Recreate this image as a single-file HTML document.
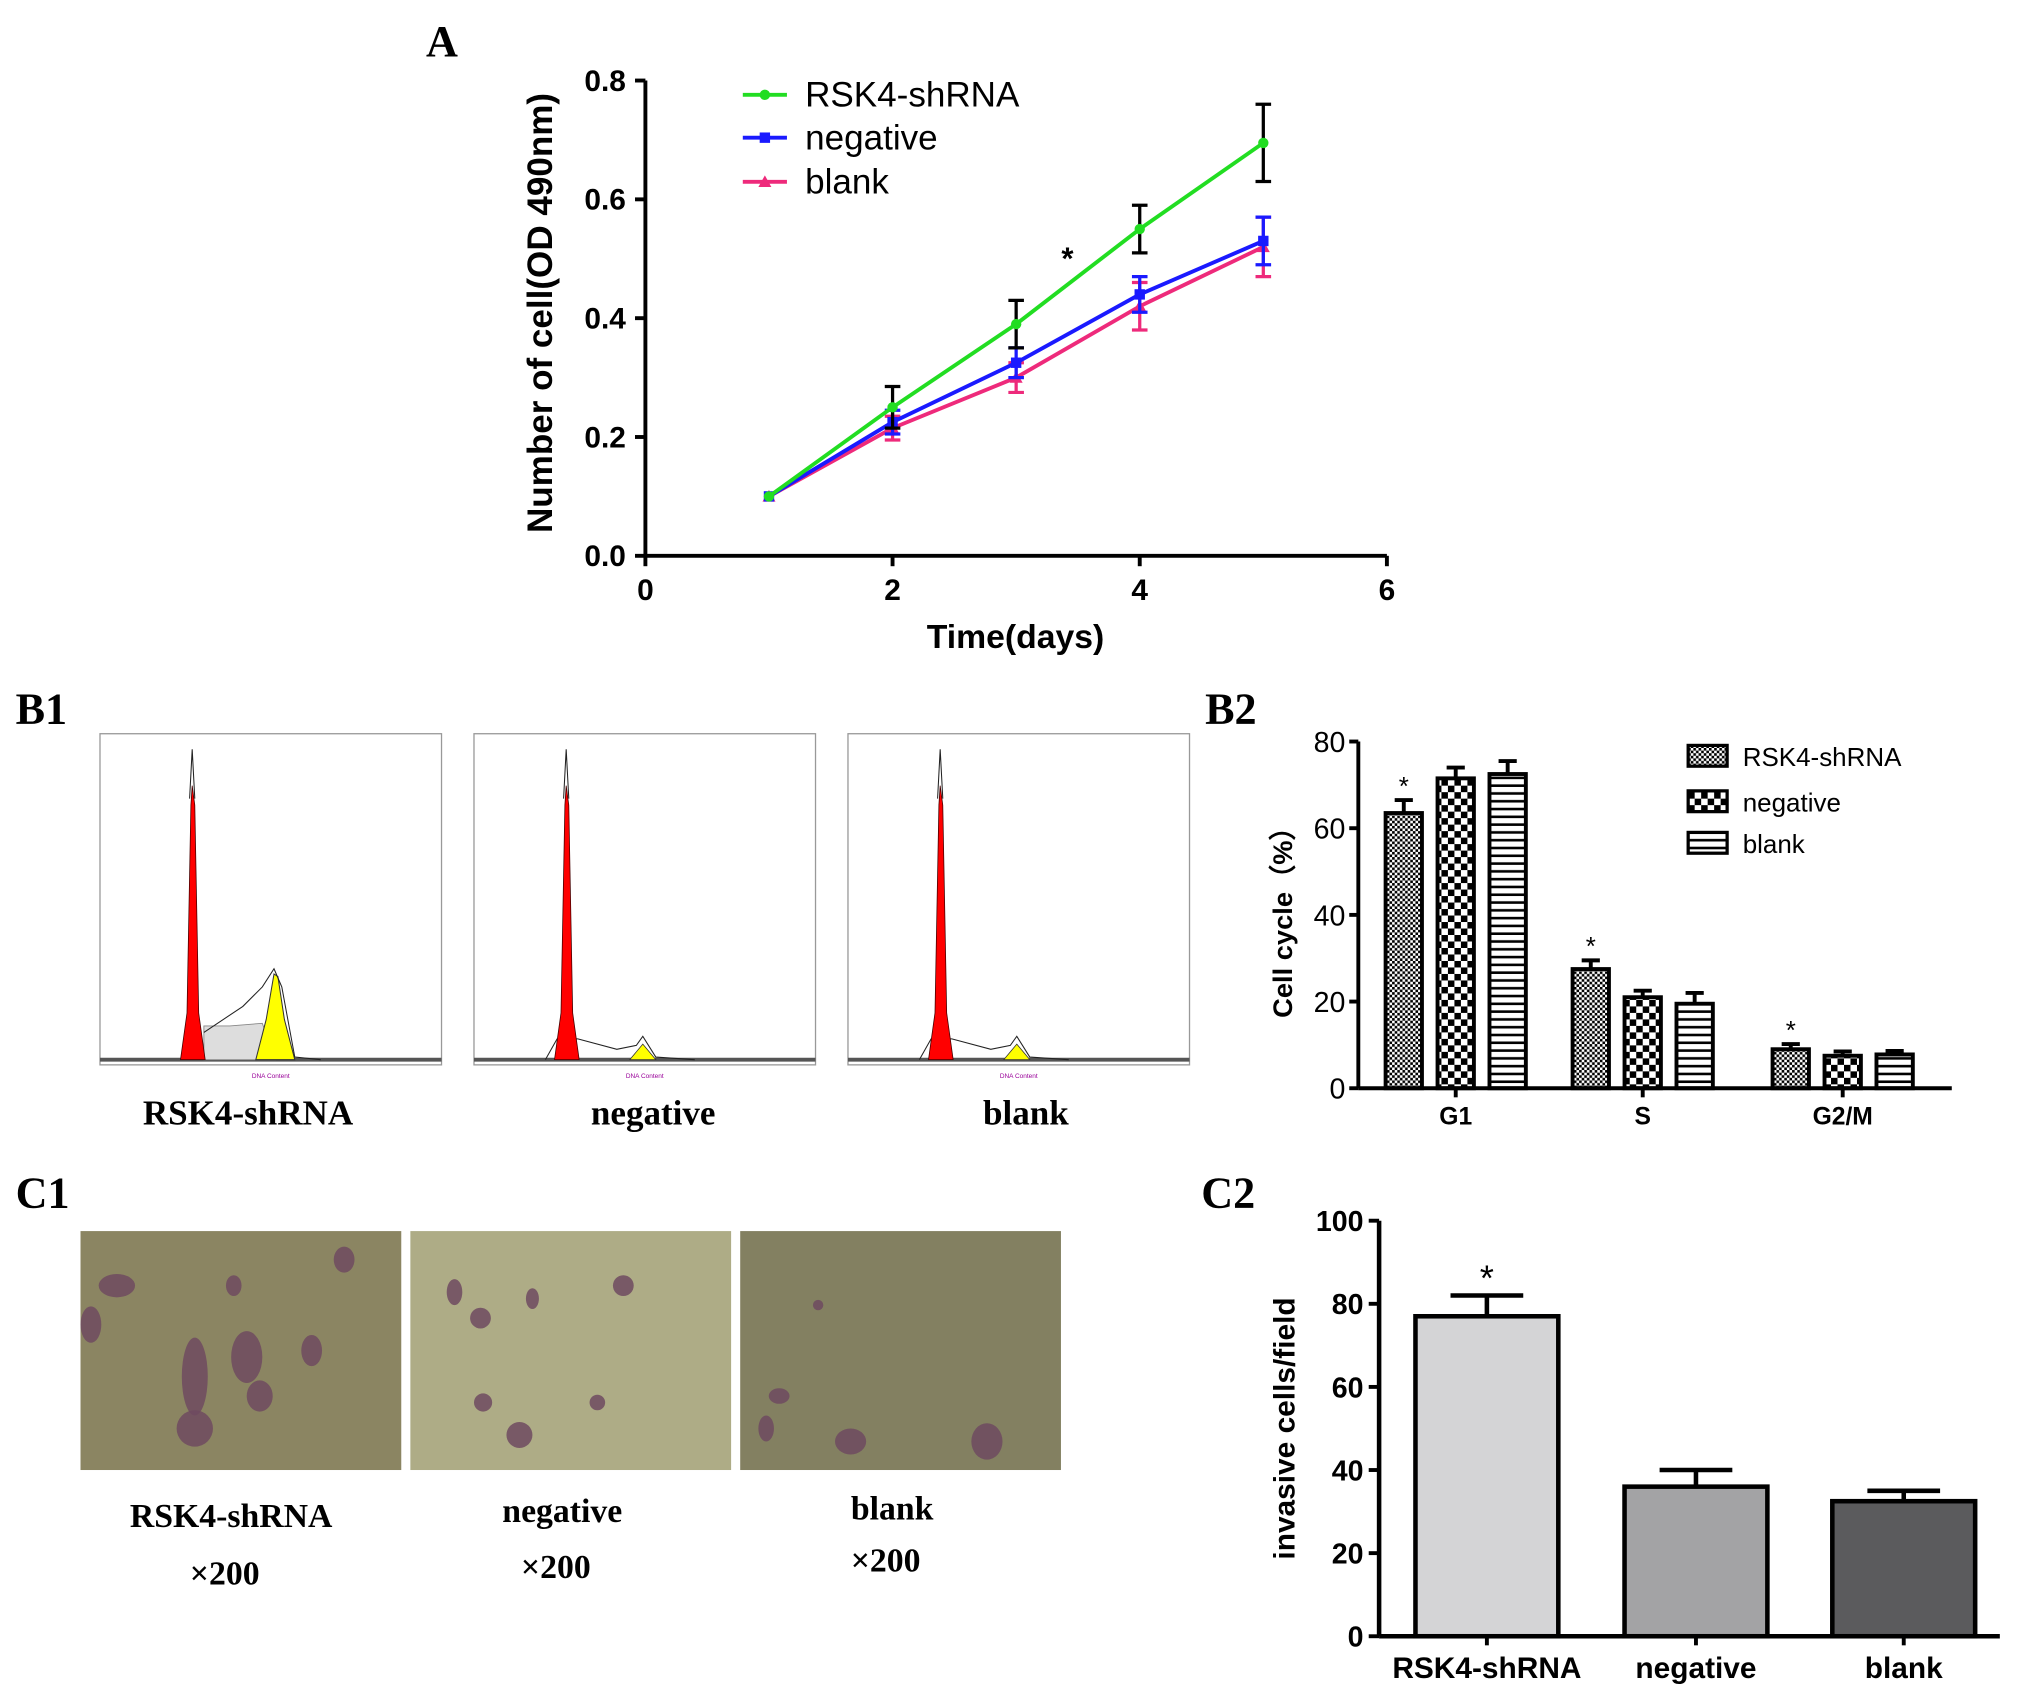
<!DOCTYPE html>
<html><head><meta charset="utf-8"><style>
html,body{margin:0;padding:0;background:#fff;}
svg{display:block;}
text{font-family:"Liberation Sans",sans-serif;}
.serif{font-family:"Liberation Serif",serif;font-weight:bold;}
</style></head><body>
<svg id="fig" width="2031" height="1696" viewBox="0 0 1564 1306" xmlns="http://www.w3.org/2000/svg">
<g id="A"></g>
<g id="B1"></g>
<g id="B2"></g>
<g id="C1"></g>
<g id="C2"></g>
<text class="serif" x="328" y="43" font-size="34">A</text>
<text class="serif" x="12" y="557" font-size="34">B1</text>
<text class="serif" x="928" y="557" font-size="34">B2</text>
<text class="serif" x="12" y="930" font-size="34">C1</text>
<text class="serif" x="925" y="930" font-size="34">C2</text>
</svg>
<script>
// ---- Panel A data ----
const daysA = [1,2,3,4,5];
const rskA = [0.10,0.25,0.39,0.55,0.695];
const rskErrA = [0,0.035,0.04,0.04,0.065];
const negA = [0.10,0.225,0.325,0.44,0.53];
const negErrA = [0,0.02,0.025,0.03,0.04];
const blankA = [0.10,0.215,0.30,0.42,0.52];
const blankErrA = [0,0.02,0.025,0.04,0.05];
const xTicksA = [0,2,4,6];
const yTicksA = [0.0,0.2,0.4,0.6,0.8];
// ---- Panel B2 data ----
const phasesB = ["G1","S","G2/M"];
const rskB = [63.5,27.5,9];
const rskErrB = [3,2,1.2];
const negB = [71.5,21,7.5];
const negErrB = [2.5,1.5,1];
const blankB = [72.5,19.5,7.8];
const blankErrB = [3,2.5,0.8];
const yTicksB = [0,20,40,60,80];
// ---- Panel C2 data ----
const groupsC = ["RSK4-shRNA","negative","blank"];
const valuesC = [77,36,32.5];
const errC = [5,4,2.5];
const yTicksC = [0,20,40,60,80,100];

const NS="http://www.w3.org/2000/svg";
function mk(parent,tag,attrs,txt){const e=document.createElementNS(NS,tag);for(const k in attrs)e.setAttribute(k,attrs[k]);if(txt!==undefined)e.textContent=txt;parent.appendChild(e);return e;}

// ===== Panel A =====
(function(){
const g=document.getElementById('A');
const x=v=>497+(v/6)*(1068-497);
const y=v=>428-(v/0.8)*(428-62);
let e;
e=mk(g,'line',{x1:x(0),y1:y(0),x2:x(6),y2:y(0),stroke:'#000','stroke-width':3});

e=mk(g,'line',{x1:x(0),y1:y(0),x2:x(0),y2:y(0.8),stroke:'#000','stroke-width':3});

xTicksA.forEach(t=>{mk(g,'line',{x1:x(t),y1:y(0),x2:x(t),y2:y(0)+8,stroke:'#000','stroke-width':3});
e=mk(g,'text',{x:x(t),y:462,'font-size':23,'font-weight':'bold','text-anchor':'middle'},t);
});
yTicksA.forEach(t=>{mk(g,'line',{x1:x(0)-8,y1:y(t),x2:x(0),y2:y(t),stroke:'#000','stroke-width':3});
e=mk(g,'text',{x:482,y:y(t)+8,'font-size':23,'font-weight':'bold','text-anchor':'end'},t.toFixed(1));
});
e=mk(g,'text',{x:782,y:499,'font-size':26,'font-weight':'bold','text-anchor':'middle'},'Time(days)');

e=mk(g,'text',{x:0,y:0,'font-size':27,'font-weight':'bold','text-anchor':'middle',transform:'translate(425,241) rotate(-90)'},'Number of cell(OD 490nm)');

const series=[[blankA,blankErrA,'#ee2a7b','tri','blank'],[negA,negErrA,'#1a1aff','sq','negative'],[rskA,rskErrA,'#22dd22','dot','rsk4-shrna']];
series.forEach(s=>{
 const [vals,errs,col,mkr,nm]=s;
 const eb=s[0]===rskA?'#000':col;
 daysA.forEach((d,i)=>{if(errs[i]>0){const xx=x(d);
  e=mk(g,'path',{d:`M${xx},${y(vals[i]-errs[i])}V${y(vals[i]+errs[i])}M${xx-6},${y(vals[i]+errs[i])}H${xx+6}M${xx-6},${y(vals[i]-errs[i])}H${xx+6}`,stroke:eb,'stroke-width':2.5,fill:'none'});
  }});
 e=mk(g,'polyline',{points:daysA.map((d,i)=>x(d)+','+y(vals[i])).join(' '),stroke:col,'stroke-width':3,fill:'none'});
 
 daysA.forEach((d,i)=>{const xx=x(d),yy=y(vals[i]);
  if(mkr==='dot')e=mk(g,'circle',{cx:xx,cy:yy,r:4,fill:col});
  else if(mkr==='sq')e=mk(g,'rect',{x:xx-4,y:yy-4,width:8,height:8,fill:col});
  else e=mk(g,'path',{d:`M${xx},${yy-5}L${xx+5},${yy+4}L${xx-5},${yy+4}Z`,fill:col});
  });
});
e=mk(g,'text',{x:822,y:207,'font-size':24,'font-weight':'bold','text-anchor':'middle'},'*');

const leg=[['RSK4-shRNA','#22dd22','dot',73],['negative','#1a1aff','sq',106],['blank','#ee2a7b','tri',140]];
leg.forEach(l=>{const ly=l[3];
 e=mk(g,'g',{});
 mk(e,'line',{x1:572,y1:ly,x2:606,y2:ly,stroke:l[1],'stroke-width':3});
 if(l[2]==='dot')mk(e,'circle',{cx:589,cy:ly,r:4,fill:l[1]});
 else if(l[2]==='sq')mk(e,'rect',{x:585,y:ly-4,width:8,height:8,fill:l[1]});
 else mk(e,'path',{d:`M589,${ly-5}L594,${ly+4}L584,${ly+4}Z`,fill:l[1]});
 mk(e,'text',{x:620,y:ly+9,'font-size':27},l[0]);});
})();

// ===== Panel B1 =====
(function(){
const g=document.getElementById('B1');
const panels=[[77,'RSK4-shRNA',true],[365,'negative',false],[653,'blank',false]];
const labels=[191,503,790];
panels.forEach((p,i)=>{const x0=p[0],w=263,top=565,bot=820;
 const pg=mk(g,'g',{});
 mk(pg,'rect',{x:x0,y:top,width:w,height:bot-top,fill:'#fff',stroke:'#999','stroke-width':1});
 mk(pg,'line',{x1:x0,y1:bot-4,x2:x0+w,y2:bot-4,stroke:'#555','stroke-width':3});
 const pk=x0+70;
 if(p[2]){
  mk(pg,'path',{d:`M${pk+10},${bot-4}L${pk+10},${bot-30}L${x0+100},${bot-30}L${x0+125},${bot-32}L${x0+135},${bot-4}Z`,fill:'#ddd',stroke:'#888','stroke-width':0.7});
  mk(pg,'path',{d:`M${x0+120},${bot-4}L${x0+128},${bot-35}L${x0+134},${bot-70}L${x0+137},${bot-68}L${x0+142},${bot-35}L${x0+150},${bot-4}Z`,fill:'#ffff00',stroke:'#333','stroke-width':0.8});
  mk(pg,'polyline',{points:`${pk+10},${bot-25} ${x0+95},${bot-35} ${x0+110},${bot-45} ${x0+125},${bot-60} ${x0+134},${bot-74} ${x0+140},${bot-60} ${x0+150},${bot-6} ${x0+170},${bot-4}`,fill:'none',stroke:'#222','stroke-width':0.8});
 } else {
  mk(pg,'polyline',{points:`${pk-15},${bot-4} ${pk-6},${bot-20} ${pk+10},${bot-20} ${x0+110},${bot-12} ${x0+125},${bot-15} ${x0+130},${bot-22} ${x0+140},${bot-6} ${x0+170},${bot-4}`,fill:'none',stroke:'#222','stroke-width':0.8});
  mk(pg,'path',{d:`M${x0+120},${bot-4}L${x0+130},${bot-16}L${x0+140},${bot-4}Z`,fill:'#ffff00',stroke:'#333','stroke-width':0.6});
 }
 mk(pg,'path',{d:`M${pk-8},${bot-4}L${pk-3},${bot-40}L${pk},${bot-200}L${pk+1},${top+40}L${pk+3},${bot-200}L${pk+6},${bot-40}L${pk+11},${bot-4}Z`,fill:'#ff0000',stroke:'#400','stroke-width':0.6});
 mk(pg,'polyline',{points:`${pk-1},${top+50} ${pk+1},${top+12} ${pk+3},${top+50}`,fill:'none',stroke:'#222','stroke-width':0.8});
 mk(pg,'text',{x:x0+w/2,y:bot+10,'font-size':5,fill:'#909','text-anchor':'middle'},'DNA Content');
 const e=mk(g,'text',{x:labels[i],y:866,'font-size':27,'text-anchor':'middle',class:'serif'},p[1]);
 
});
})();

// ===== Panel B2 =====
(function(){
const g=document.getElementById('B2');
const defs=mk(g,'defs',{});
let p=mk(defs,'pattern',{id:'pFine',width:4,height:4,patternUnits:'userSpaceOnUse'});
mk(p,'rect',{width:4,height:4,fill:'#fff'});mk(p,'rect',{width:2,height:2,fill:'#000'});mk(p,'rect',{x:2,y:2,width:2,height:2,fill:'#000'});
p=mk(defs,'pattern',{id:'pCheck',width:10,height:10,patternUnits:'userSpaceOnUse'});
mk(p,'rect',{width:10,height:10,fill:'#fff'});mk(p,'rect',{width:5,height:5,fill:'#000'});mk(p,'rect',{x:5,y:5,width:5,height:5,fill:'#000'});
p=mk(defs,'pattern',{id:'pStripe',width:6,height:6,patternUnits:'userSpaceOnUse'});
mk(p,'rect',{width:6,height:6,fill:'#fff'});mk(p,'rect',{y:4,width:6,height:2,fill:'#000'});
const y=v=>838-(v/80)*(838-571);
const AX=1046;
const centers=[1121,1265,1419];
const off=[-40,0,40], bw=28;
const sets=[[rskB,rskErrB,'url(#pFine)','rsk4-shrna'],[negB,negErrB,'url(#pCheck)','negative'],[blankB,blankErrB,'url(#pStripe)','blank']];
let e;
phasesB.forEach((ph,i)=>{
 sets.forEach((s,j)=>{const cx=centers[i]+off[j];const v=s[0][i],er=s[1][i];
  e=mk(g,'path',{d:`M${cx},${y(v)}V${y(v+er)}M${cx-7},${y(v+er)}H${cx+7}`,stroke:'#000','stroke-width':3});
  
  e=mk(g,'rect',{x:cx-bw/2,y:y(v),width:bw,height:y(0)-y(v),fill:s[2],stroke:'#000','stroke-width':3});
  
 });
 e=mk(g,'text',{x:centers[i]-40,y:y(rskB[i]+rskErrB[i])-4,'font-size':20,'text-anchor':'middle'},'*');
 
 mk(g,'line',{x1:centers[i],y1:838,x2:centers[i],y2:845,stroke:'#000','stroke-width':3});
 e=mk(g,'text',{x:centers[i],y:866,'font-size':19,'font-weight':'bold','text-anchor':'middle'},ph);
 
});
e=mk(g,'line',{x1:AX,y1:838,x2:1503,y2:838,stroke:'#000','stroke-width':3});
e=mk(g,'line',{x1:AX,y1:838,x2:AX,y2:571,stroke:'#000','stroke-width':3});
yTicksB.forEach(t=>{mk(g,'line',{x1:AX-7,y1:y(t),x2:AX,y2:y(t),stroke:'#000','stroke-width':3});
 e=mk(g,'text',{x:AX-10,y:y(t)+8,'font-size':22,'text-anchor':'end'},t);});
e=mk(g,'text',{x:0,y:0,'font-size':21,'font-weight':'bold','text-anchor':'middle',transform:'translate(995,705) rotate(-90)'},'Cell cycle（%）');

[['RSK4-shRNA','url(#pFine)',583],['negative','url(#pCheck)',618],['blank','url(#pStripe)',650]].forEach(l=>{
 e=mk(g,'g',{});
 mk(e,'rect',{x:1300,y:l[2]-9,width:30,height:16,fill:l[1],stroke:'#000','stroke-width':2.5});
 mk(e,'text',{x:1342,y:l[2]+7,'font-size':20},l[0]);});
})();

// ===== Panel C1 =====
(function(){
const g=document.getElementById('C1');
const imgs=[[62,'#8b8562','rsk4-shrna',[[90,990,14,9],[150,1060,10,30],[190,1045,12,20],[150,1100,14,14],[70,1020,8,14],[265,970,8,10],[240,1040,8,12],[180,990,6,8],[200,1075,10,12]]],
 [316,'#aeac86','negative',[[350,995,6,10],[370,1015,8,8],[372,1080,7,7],[480,990,8,8],[410,1000,5,8],[460,1080,6,6],[400,1105,10,10]]],
 [570,'#838061','blank',[[600,1075,8,6],[590,1100,6,10],[655,1110,12,10],[760,1110,12,14],[630,1005,4,4]]]];
const lab=[[178,'RSK4-shRNA',1176,1220],[433,'negative',1172,1215],[687,'blank',1170,1210]];
imgs.forEach((im,i)=>{
 let e=mk(g,'g',{});
 mk(e,'rect',{x:im[0],y:948,width:247,height:184,fill:im[1]});
 im[3].forEach(b=>mk(e,'ellipse',{cx:b[0],cy:b[1],rx:b[2],ry:b[3],fill:'#6e4a60',opacity:0.85}));
 const L=lab[i];
 e=mk(g,'text',{x:L[0],y:L[2],'font-size':26,'text-anchor':'middle',class:'serif'},L[1]);
 e=mk(g,'text',{x:L[0]-5,y:L[3],'font-size':26,'text-anchor':'middle',class:'serif'},'×200');
});
})();

// ===== Panel C2 =====
(function(){
const g=document.getElementById('C2');
const y=v=>1260-(v/100)*(1260-940);
const AX=1062;
const centers=[1145,1306,1466], bw=110;
const fills=['#d4d4d6','#a3a3a5','#5b5b5d'];
let e;
groupsC.forEach((gname,i)=>{const cx=centers[i],v=valuesC[i],er=errC[i];
 e=mk(g,'path',{d:`M${cx},${y(v)}V${y(v+er)}M${cx-28},${y(v+er)}H${cx+28}`,stroke:'#000','stroke-width':3.5});
 
 e=mk(g,'rect',{x:cx-bw/2,y:y(v),width:bw,height:y(0)-y(v),fill:fills[i],stroke:'#000','stroke-width':3.5});
 
 mk(g,'line',{x1:cx,y1:1260,x2:cx,y2:1267,stroke:'#000','stroke-width':3});
 e=mk(g,'text',{x:cx,y:1292,'font-size':23,'font-weight':'bold','text-anchor':'middle'},gname);
 
});
e=mk(g,'text',{x:centers[0],y:y(valuesC[0]+errC[0])-4,'font-size':28,'text-anchor':'middle'},'*');

e=mk(g,'line',{x1:AX,y1:1260,x2:1540,y2:1260,stroke:'#000','stroke-width':3.5});
e=mk(g,'line',{x1:AX,y1:1260,x2:AX,y2:940,stroke:'#000','stroke-width':3.5});
yTicksC.forEach(t=>{mk(g,'line',{x1:AX-8,y1:y(t),x2:AX,y2:y(t),stroke:'#000','stroke-width':3});
 e=mk(g,'text',{x:AX-12,y:y(t)+8,'font-size':22,'font-weight':'bold','text-anchor':'end'},t);});
e=mk(g,'text',{x:0,y:0,'font-size':23,'font-weight':'bold','text-anchor':'middle',transform:'translate(997,1100) rotate(-90)'},'invasive cells/field');

})();
</script>
</body></html>
